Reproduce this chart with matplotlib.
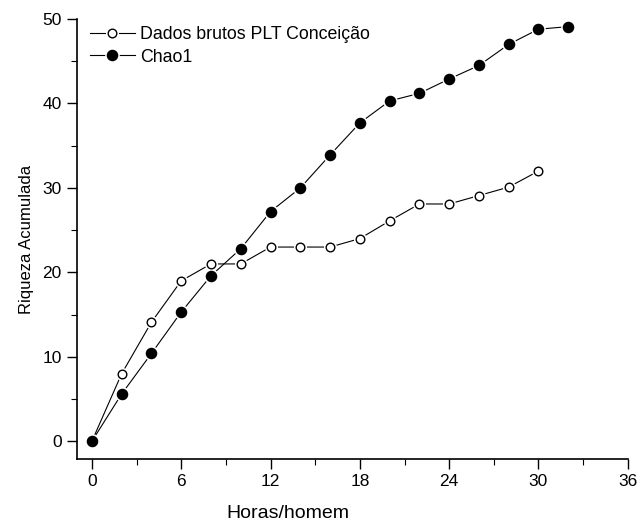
import numpy as np
import matplotlib
matplotlib.use('Agg')
import matplotlib.pyplot as plt
from matplotlib.ticker import MultipleLocator

## Data ##
horas_brutos = [0, 2, 4, 6, 8, 10, 12, 14, 16, 18, 20, 22, 24, 26, 28, 30]
riq_brutos = [0, 8, 14.1, 19, 21, 21, 23, 23, 23, 24, 26.1, 28.1, 28.1, 29.1, 30.1, 32]
horas_chao = [0, 2, 4, 6, 8, 10, 12, 14, 16, 18, 20, 22, 24, 26, 28, 30, 32]
riq_chao = [0, 5.6, 10.4, 15.3, 19.6, 22.8, 27.2, 30, 33.9, 37.7, 40.3, 41.2, 42.9, 44.5, 47.0, 48.8, 49.1]
lab_brutos = 'Dados brutos PLT Conceição'
lab_chao = 'Chao1'

plt.rcParams['font.family'] = ['Liberation Sans', 'DejaVu Sans']

fig = plt.figure(figsize=(6.38, 5.29), dpi=100)
ax = fig.add_axes([0.1207, 0.1323, 0.8633, 0.8317])

def serie(x, y, fc):
  ln, = ax.plot(x, y, '-', color='k', lw=0.8, zorder=2)
  ms = 7.3 if fc == 'k' else 6.2
  halo, = ax.plot(x, y, 'o', ms=ms + 2.2, color='white', mec='white', zorder=3)
  mk, = ax.plot(x, y, 'o', ms=ms, mfc=fc, mec='k', mew=1.0, zorder=4)
  return (ln, halo, mk)

h1 = serie(horas_brutos, riq_brutos, 'white')
h2 = serie(horas_chao, riq_chao, 'k')

ax.legend([h1, h2], [lab_brutos, lab_chao], loc='upper left', bbox_to_anchor=(-0.005, 1.02),
          frameon=False, fontsize=12.8, handlelength=2.5, handletextpad=0.3, labelspacing=0.3,
          numpoints=1)

## Axes ##
ax.set_xlim(-1, 36)
ax.set_ylim(-2.1, 50)
ax.xaxis.set_major_locator(MultipleLocator(6))
ax.xaxis.set_minor_locator(MultipleLocator(3))
ax.yaxis.set_major_locator(MultipleLocator(10))
ax.yaxis.set_minor_locator(MultipleLocator(5))
for s in ['top', 'right']:
  ax.spines[s].set_visible(False)
for s in ['left', 'bottom']:
  ax.spines[s].set_linewidth(1.2)
ax.tick_params(which='major', direction='out', length=7, width=1.0, labelsize=12.5, pad=4)
ax.tick_params(which='minor', direction='out', length=4, width=0.8)
ax.set_xlabel('Horas/homem', fontsize=14, labelpad=14)
ax.xaxis.set_label_coords(0.383, -0.105)
ax.set_ylabel('Riqueza Acumulada', fontsize=12, labelpad=6)

fig.savefig('out.png', dpi=100)
